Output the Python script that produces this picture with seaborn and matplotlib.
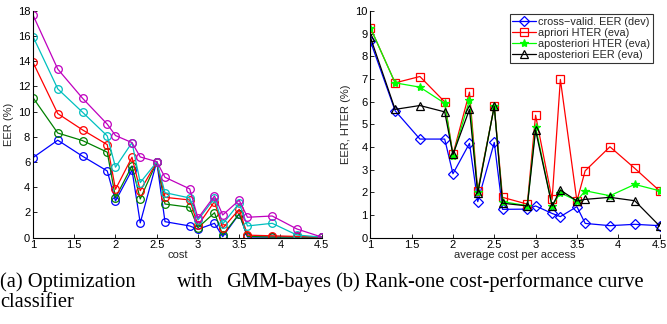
import matplotlib
matplotlib.use("Agg")
import matplotlib.pyplot as plt
import seaborn as sns
import pandas as pd

# ---------------- data ----------------
cost = [1.0, 1.3, 1.6, 1.9, 2.0, 2.2, 2.3, 2.5, 2.6, 2.9, 3.0, 3.2, 3.3, 3.5, 3.6, 3.9, 4.2, 4.5]

# left panel (a): EER (%) vs cost
eer_blue = [6.35, 7.73, 6.46, 5.29, 2.91, 5.37, 1.17, 6.03, 1.27, 0.93, 0.67, 1.14, 0.08, 1.88, 0.05, 0.05, 0.05, 0.05]
eer_green = [11.1, 8.3, 7.7, 6.78, 3.17, 5.69, 3.07, 6.0, 2.67, 2.41, 0.79, 1.98, 0.2, 1.9, 0.1, 0.05, 0.05, 0.05]
eer_red = [13.9, 9.84, 8.55, 7.38, 3.84, 6.38, 3.73, 6.0, 3.2, 2.99, 0.98, 2.86, 0.75, 2.25, 0.2, 0.15, 0.1, 0.05]
eer_cyan = [15.95, 11.8, 9.95, 8.07, 5.59, 7.54, 4.37, 6.0, 3.57, 3.15, 1.4, 3.13, 1.09, 2.73, 0.93, 1.14, 0.21, 0.05]
eer_magenta = [17.65, 13.37, 11.06, 9.0, 8.1, 7.54, 6.4, 6.03, 4.79, 3.87, 1.54, 3.31, 1.8, 2.97, 1.62, 1.72, 0.69, 0.05]

# right panel (b): rank-one cost-performance curve
cv_eer_dev = [8.68, 5.6, 4.35, 4.35, 2.82, 4.16, 1.59, 4.2, 1.25, 1.26, 1.40, 1.07, 0.93, 1.37, 0.63, 0.53, 0.59, 0.53]
apriori_hter = [9.27, 6.83, 7.11, 5.99, 3.67, 6.42, 2.07, 5.8, 1.78, 1.48, 5.4, 1.69, 6.98, 1.62, 2.95, 4.01, 3.06, 2.07]
apost_hter = [9.27, 6.83, 6.64, 5.93, 3.62, 6.07, 2.0, 5.8, 1.59, 1.41, 4.89, 1.40, 1.98, 1.63, 2.07, 1.85, 2.35, 2.07]
apost_eer = [8.85, 5.66, 5.83, 5.55, 3.67, 5.66, 1.96, 5.8, 1.52, 1.40, 4.74, 1.40, 2.1, 1.62, 1.69, 1.78, 1.63, 0.52]

legend_labels = ["cross\u2212valid. EER (dev)", "apriori HTER (eva)",
                 "aposteriori HTER (eva)", "aposteriori EER (eva)"]

left_xticks = [1, 1.5, 2, 2.5, 3, 3.5, 4, 4.5]
left_xticklabels = ["1", "1.5", "2", "2.5", "3", "3.5", "4", "4.5"]
left_yticks = [0, 2, 4, 6, 8, 10, 12, 14, 16, 18]
right_yticks = [0, 1, 2, 3, 4, 5, 6, 7, 8, 9, 10]

# ---------------- style ----------------
sns.set_theme(style="white")
plt.rcParams["font.family"] = ["Liberation Sans", "DejaVu Sans"]
plt.rcParams["axes.unicode_minus"] = True

fig = plt.figure(figsize=(6.67, 3.24), dpi=100)
axL = fig.add_axes([0.0495, 0.2664, 0.4328, 0.7006])
axR = fig.add_axes([0.5552, 0.2664, 0.4336, 0.6997])

left_series = [
    (eer_blue, (0, 0, 1)),
    (eer_green, (0, 0.5, 0)),
    (eer_red, (1, 0, 0)),
    (eer_cyan, (0, 0.75, 0.75)),
    (eer_magenta, (0.75, 0, 0.75)),
]
for vals, col in left_series:
    df = pd.DataFrame({"cost": cost, "eer": vals})
    sns.lineplot(data=df, x="cost", y="eer", ax=axL, color=col, lw=0.9,
                 marker="o", markersize=5.5, markerfacecolor="none",
                 markeredgecolor=col, markeredgewidth=0.9, estimator=None, sort=False)

right_series = [
    (cv_eer_dev, (0, 0, 1), "D", 5),
    (apriori_hter, (1, 0, 0), "s", 5.5),
    (apost_hter, (0, 1, 0), "*", 6),
    (apost_eer, (0, 0, 0), "^", 6),
]
for (vals, col, mk, ms), lab in zip(right_series, legend_labels):
    df = pd.DataFrame({"cost": cost, "val": vals})
    sns.lineplot(data=df, x="cost", y="val", ax=axR, color=col, lw=0.9,
                 marker=mk, markersize=ms,
                 markerfacecolor=(col if mk == "*" else "none"),
                 markeredgecolor=col, markeredgewidth=0.9, estimator=None,
                 sort=False, label=lab)

for ax in (axL, axR):
    ax.set_xlim(1, 4.5)
    ax.set_xticks(left_xticks)
    ax.set_xticklabels(left_xticklabels)
    for s in ("top", "right"):
        ax.spines[s].set_visible(False)
    for s in ("left", "bottom"):
        ax.spines[s].set_color("black")
        ax.spines[s].set_linewidth(0.8)
    ax.tick_params(direction="in", length=3, width=0.6, labelsize=8,
                   colors="black", pad=2, left=True, bottom=True)
    ax.grid(False)

axL.set_ylim(0, 18)
axL.set_yticks(left_yticks)
axL.set_xlabel("cost", fontsize=8, labelpad=0)
axL.set_ylabel("EER (%)", fontsize=8, labelpad=3)

axR.set_ylim(0, 10)
axR.set_yticks(right_yticks)
axR.set_xlabel("average cost per access", fontsize=8, labelpad=0)
axR.set_ylabel("EER, HTER (%)", fontsize=8, labelpad=3)

leg = axR.legend(loc="upper right", bbox_to_anchor=(0.985, 0.995), fontsize=7.8,
                 frameon=True, fancybox=False, borderpad=0.25, labelspacing=0.1,
                 handlelength=2.2, handletextpad=0.2, borderaxespad=0.2)
leg.get_frame().set_edgecolor("black")
leg.get_frame().set_linewidth(0.8)

# captions (serif, justified look)
cap = dict(family=["Liberation Serif", "DejaVu Serif"], fontsize=14.8, color="black", va="baseline")
y1 = 1 - 287 / 324
y2 = 1 - 307 / 324
fig.text(0.0, y1, "(a) Optimization", ha="left", **cap)
fig.text(0.2654, y1, "with", ha="left", **cap)
fig.text(0.4963, y1, "GMM-bayes", ha="right", **cap)
fig.text(0.0, y2, "classifier", ha="left", **cap)
fig.text(0.5037, y1, "(b) Rank-one cost-performance curve", ha="left", **cap)

fig.savefig("out.png", dpi=100)
